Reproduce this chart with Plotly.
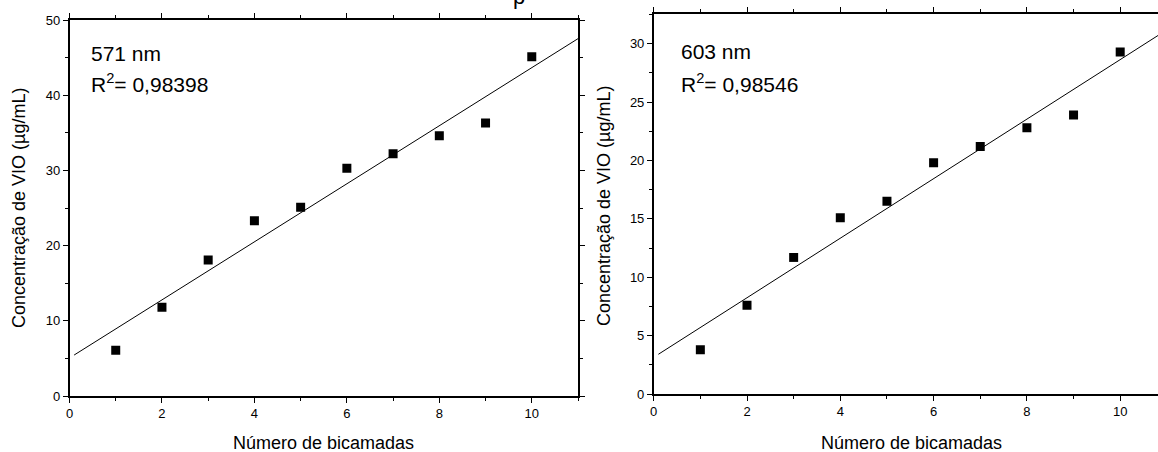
import numpy as np
import plotly.graph_objects as go

# Data
bilayers = [1, 2, 3, 4, 5, 6, 7, 8, 9, 10]
conc_571 = [6.1, 11.8, 18.1, 23.3, 25.1, 30.3, 32.2, 34.6, 36.3, 45.1]
conc_603 = [3.8, 7.6, 11.7, 15.1, 16.5, 19.8, 21.2, 22.8, 23.9, 29.3]
fit_x = [0.1, 11.0]
label_571 = ["571 nm", "R<sup>2</sup>= 0,98398"]
label_603 = ["603 nm", "R<sup>2</sup>= 0,98546"]
x_title = "Número de bicamadas"
y_title = "Concentração de VIO (µg/mL)"

W, H = 1158, 452
FONT = "Arial, Liberation Sans, sans-serif"

def fit_line(x, y, xs):
    m, b = np.polyfit(x, y, 1)
    return [m * v + b for v in xs]

fig = go.Figure()

for ys, ax in [(conc_571, ""), (conc_603, "2")]:
    fig.add_trace(go.Scatter(
        x=fit_x, y=fit_line(bilayers, ys, fit_x), mode="lines",
        line=dict(color="black", width=1), xaxis="x" + ax, yaxis="y" + ax,
        showlegend=False, hoverinfo="skip"))
    fig.add_trace(go.Scatter(
        x=bilayers, y=ys, mode="markers",
        marker=dict(symbol="square", size=9, color="black"),
        xaxis="x" + ax, yaxis="y" + ax, showlegend=False))

def px_x(p):
    return p / W

def px_y(p):
    return 1 - p / H

axis_common = dict(
    showline=True, linecolor="black", linewidth=1.5,
    ticks="outside", ticklen=5, tickwidth=1.2, tickcolor="black",
    showgrid=False, zeroline=False, automargin=False,
    tickfont=dict(family=FONT, size=13, color="black"),
    minor=dict(ticks="outside", ticklen=3, tickwidth=1.2, tickcolor="black", dtick=1, showgrid=False),
)

fig.update_layout(
    width=W, height=H,
    margin=dict(l=0, r=0, t=0, b=0, autoexpand=False),
    paper_bgcolor="white", plot_bgcolor="white",
    font=dict(family=FONT, color="black"),
    xaxis=dict(axis_common, domain=[px_x(69.5), px_x(578)], range=[0, 11],
               tick0=0, dtick=2, mirror="ticks", anchor="y"),
    yaxis=dict(axis_common, domain=[px_y(396), px_y(20)], range=[0, 50],
               tick0=0, dtick=10, mirror="ticks",
               minor=dict(axis_common["minor"], dtick=5), anchor="x"),
    xaxis2=dict(axis_common, domain=[px_x(653.7), 1.0], range=[0, (W - 653.7) / 46.65],
                tick0=0, dtick=2, mirror="ticks", anchor="y2"),
    yaxis2=dict(axis_common, domain=[px_y(394), px_y(14)], range=[0, 32.55],
                tick0=0, dtick=5, mirror=False,
                minor=dict(axis_common["minor"], dtick=2.5), anchor="x2"),
)

def txt(text, x, y, size, xanchor="center", yanchor="middle", angle=0):
    fig.add_annotation(text=text, xref="paper", yref="paper",
                       x=px_x(x), y=px_y(y), xanchor=xanchor, yanchor=yanchor,
                       textangle=angle, showarrow=False,
                       font=dict(family=FONT, size=size, color="black"))

# Axis titles
txt(x_title, 323, 443, 18)
txt(x_title, 911, 443, 18)
txt(y_title, 19, 208, 18, angle=-90)
txt(y_title, 604, 206, 18, angle=-90)

# Panel labels
for t, yp in zip(label_571, [53, 83]):
    txt(t, 89, yp, 21, xanchor="left")
for t, yp in zip(label_603, [52, 83]):
    txt(t, 679, yp, 21, xanchor="left")

# cut-off glyph at top edge (as in the reference)
txt("p", 519, -3.5, 22)

fig.write_html("out.html", config={"displayModeBar": False},
               post_script="document.body.style.margin='0';")
